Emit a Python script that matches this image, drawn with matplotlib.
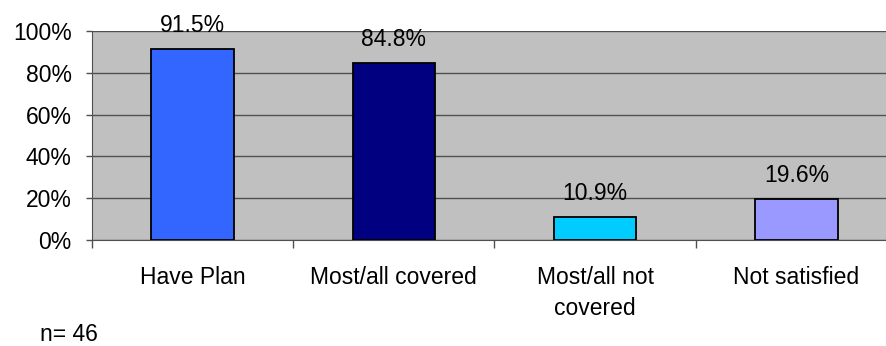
import matplotlib.pyplot as plt
import numpy as np

plt.rcParams['font.family'] = ['Liberation Sans', 'DejaVu Sans']

categories = ['Have Plan', 'Most/all covered', 'Most/all not\ncovered', 'Not satisfied']
values = [91.5, 84.8, 10.9, 19.6]
labels = ['91.5%', '84.8%', '10.9%', '19.6%']
colors = ['#3366FF', '#000080', '#00CCFF', '#9999FF']
yticks = [0, 20, 40, 60, 80, 100]

fs = 16.5
line_col = '#505050'

fig = plt.figure(figsize=(8.87, 3.46), dpi=100)
# plot area runs a little past the right edge of the picture, as in the original
ax = fig.add_axes([92 / 887, 106 / 346, 805 / 887, 209 / 346])
ax.set_facecolor('#C0C0C0')

x = np.arange(len(categories))
ax.bar(x, values, width=0.41, color=colors, edgecolor='black', linewidth=1.3, zorder=3)
for xi, v, lab in zip(x, values, labels):
    ax.text(xi, v + 8, lab, ha='center', va='baseline', fontsize=fs, zorder=4, clip_on=False)

ax.set_xlim(-0.5, 3.5)
ax.set_ylim(0, 100)
ax.set_yticks(yticks)
ax.set_yticklabels([f'{t}%' for t in yticks], fontsize=fs)
ax.yaxis.grid(True, color=line_col, linewidth=1.0, zorder=1)
ax.tick_params(axis='y', direction='out', length=4.5, width=1.0, pad=10, color=line_col)

ax.set_xticks(x)
ax.set_xticklabels(categories, fontsize=fs, linespacing=1.45)
ax.tick_params(axis='x', which='major', length=0, pad=19)
ax.set_xticks(np.arange(-0.5, 3.6, 1.0), minor=True)
ax.tick_params(axis='x', which='minor', direction='out', length=6, width=1.0, color=line_col)

for side in ['top', 'right']:
    ax.spines[side].set_visible(False)
ax.spines['left'].set_color(line_col)
ax.spines['bottom'].set_color(line_col)

fig.text(40 / 887, 5 / 346, 'n= 46', fontsize=fs, ha='left', va='baseline')

fig.savefig('out.png', dpi=100)
